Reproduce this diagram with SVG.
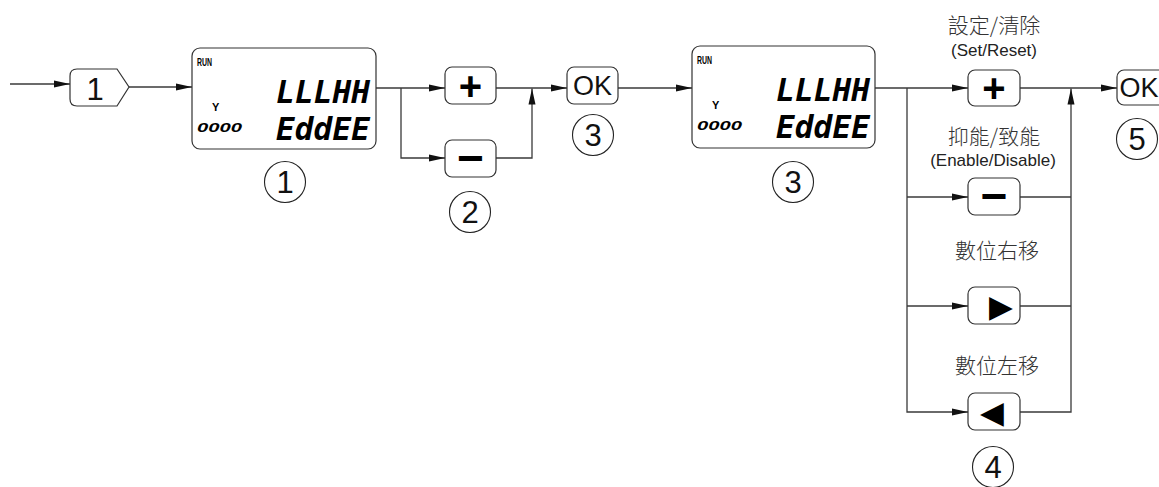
<svg xmlns="http://www.w3.org/2000/svg" width="1159" height="487" viewBox="0 0 1159 487">
<defs>
<marker id="ah" markerWidth="18" markerHeight="9" refX="16" refY="4.5" orient="auto" markerUnits="userSpaceOnUse">
<path d="M0,1 L16,4.5 L0,8 Z" fill="#111"/>
</marker>
</defs>
<style>
.ln{fill:none;stroke:#3a3a3a;stroke-width:1.3}
.bx{fill:#fff;stroke:#333;stroke-width:1.2}
.cir{fill:#fff;stroke:#222;stroke-width:1.1}
.num{font-family:"Liberation Sans",Arial,sans-serif;font-size:31px;fill:#111;text-anchor:middle}
.ok{font-family:"Liberation Sans",Arial,sans-serif;font-size:27px;fill:#111;text-anchor:middle}
.sym{font-family:"Liberation Sans",Arial,sans-serif;font-weight:bold;fill:#000;text-anchor:middle}
.tri{font-family:"DejaVu Sans",sans-serif;fill:#000;text-anchor:middle;font-size:31px}
.cjk{font-family:"Noto Sans CJK TC","Noto Sans CJK SC",sans-serif;font-size:21px;fill:#333;text-anchor:middle;font-weight:300}
.en{font-family:"Liberation Sans",Arial,sans-serif;font-size:17px;fill:#222;text-anchor:middle}
.lcdbig{font-family:"DejaVu Sans Mono","DejaVu Sans",monospace;font-weight:bold;font-style:italic;font-size:31px;fill:#000}
.lcdsm{font-family:"Liberation Sans",Arial,sans-serif;font-weight:bold;fill:#000}
</style>

<g id="connectors">
<path class="ln" d="M10,84 H70" marker-end="url(#ah)"/>
<path class="ln" d="M129,87 H192" marker-end="url(#ah)"/>
<path class="ln" d="M376,88 H445" marker-end="url(#ah)"/>
<path class="ln" d="M401,88 V158 H445" marker-end="url(#ah)"/>
<path class="ln" d="M496,88 H567" marker-end="url(#ah)"/>
<path class="ln" d="M496,158 H532 V88.5" marker-end="url(#ah)"/>
<path class="ln" d="M618,88 H692" marker-end="url(#ah)"/>
<path class="ln" d="M875,88 H968" marker-end="url(#ah)"/>
<path class="ln" d="M907,88 V412 H968" marker-end="url(#ah)"/>
<path class="ln" d="M907,197 H968" marker-end="url(#ah)"/>
<path class="ln" d="M907,306 H968" marker-end="url(#ah)"/>
<path class="ln" d="M1020,88 H1117" marker-end="url(#ah)"/>
<path class="ln" d="M1020,197 H1071"/>
<path class="ln" d="M1020,306 H1071"/>
<path class="ln" d="M1020,412 H1071 V88.5" marker-end="url(#ah)"/>
</g>

<g id="start">
<path class="bx" d="M77,69 H117 L129,87 L117,106 H77 Q70,106 70,99 V76 Q70,69 77,69 Z"/>
<text class="num" x="95" y="100" font-size="34">1</text>
</g>

<g id="lcd1">
<rect class="bx" x="192" y="48" width="184" height="101" rx="8"/>
<text class="lcdsm" x="197" y="66" font-size="10" textLength="15" lengthAdjust="spacingAndGlyphs">RUN</text>
<text class="lcdsm" x="212" y="111" font-size="11">Y</text>
<text class="lcdsm" x="197" y="132" font-size="13" font-style="italic" textLength="45" lengthAdjust="spacingAndGlyphs">0000</text>
<text class="lcdbig" x="276" y="103" textLength="94" lengthAdjust="spacingAndGlyphs">LLLHH</text>
<text class="lcdbig" x="276" y="140" textLength="94" lengthAdjust="spacingAndGlyphs">EddEE</text>
</g>
<g id="c1"><circle class="cir" cx="285" cy="182" r="20.5"/><text class="num" x="285" y="193">1</text></g>

<g id="plus1"><rect class="bx" x="445" y="67" width="51" height="37" rx="7"/><text class="sym" x="470.5" y="100" font-size="40">+</text></g>
<g id="minus1"><rect class="bx" x="445" y="140" width="51" height="37" rx="7"/><text class="sym" x="470.5" y="174" font-size="46">−</text></g>
<g id="c2"><circle class="cir" cx="470" cy="212" r="20.5"/><text class="num" x="470" y="223">2</text></g>

<g id="ok1"><rect class="bx" x="567" y="67" width="51" height="37" rx="7"/><text class="ok" x="592.5" y="95">OK</text></g>
<g id="c3a"><circle class="cir" cx="593" cy="135" r="20.5"/><text class="num" x="593" y="146">3</text></g>

<g id="lcd2">
<rect class="bx" x="692" y="46" width="183" height="102" rx="8"/>
<text class="lcdsm" x="697" y="64" font-size="10" textLength="15" lengthAdjust="spacingAndGlyphs">RUN</text>
<text class="lcdsm" x="712" y="109" font-size="11">Y</text>
<text class="lcdsm" x="697" y="130" font-size="13" font-style="italic" textLength="45" lengthAdjust="spacingAndGlyphs">0000</text>
<text class="lcdbig" x="776" y="101" textLength="94" lengthAdjust="spacingAndGlyphs">LLLHH</text>
<text class="lcdbig" x="776" y="138" textLength="94" lengthAdjust="spacingAndGlyphs">EddEE</text>
</g>
<g id="c3b"><circle class="cir" cx="793" cy="182" r="20.5"/><text class="num" x="793" y="193">3</text></g>

<g id="plus2">
<text class="cjk" x="994" y="33">設定/清除</text>
<text class="en" x="994" y="56">(Set/Reset)</text>
<rect class="bx" x="968" y="70" width="52" height="36" rx="7"/><text class="sym" x="994" y="102" font-size="40">+</text>
</g>
<g id="minus2">
<text class="cjk" x="994" y="144">抑能/致能</text>
<text class="en" x="993" y="166">(Enable/Disable)</text>
<rect class="bx" x="968" y="178" width="52" height="37" rx="7"/><text class="sym" x="994" y="212" font-size="46">−</text>
</g>
<g id="right">
<text class="cjk" x="997" y="258">數位右移</text>
<rect class="bx" x="968" y="287" width="52" height="37" rx="7"/><text class="tri" x="1001" y="317">▶</text>
</g>
<g id="left">
<text class="cjk" x="997" y="373">數位左移</text>
<rect class="bx" x="968" y="393" width="52" height="37" rx="7"/><text class="tri" x="992" y="423">◀</text>
</g>
<g id="c4"><circle class="cir" cx="993" cy="467" r="20.5"/><text class="num" x="993" y="478">4</text></g>

<g id="ok2"><rect class="bx" x="1117" y="70" width="60" height="35" rx="7"/><text class="ok" x="1139" y="97">OK</text></g>
<g id="c5"><circle class="cir" cx="1137" cy="139" r="20.5"/><text class="num" x="1137" y="150">5</text></g>
</svg>
